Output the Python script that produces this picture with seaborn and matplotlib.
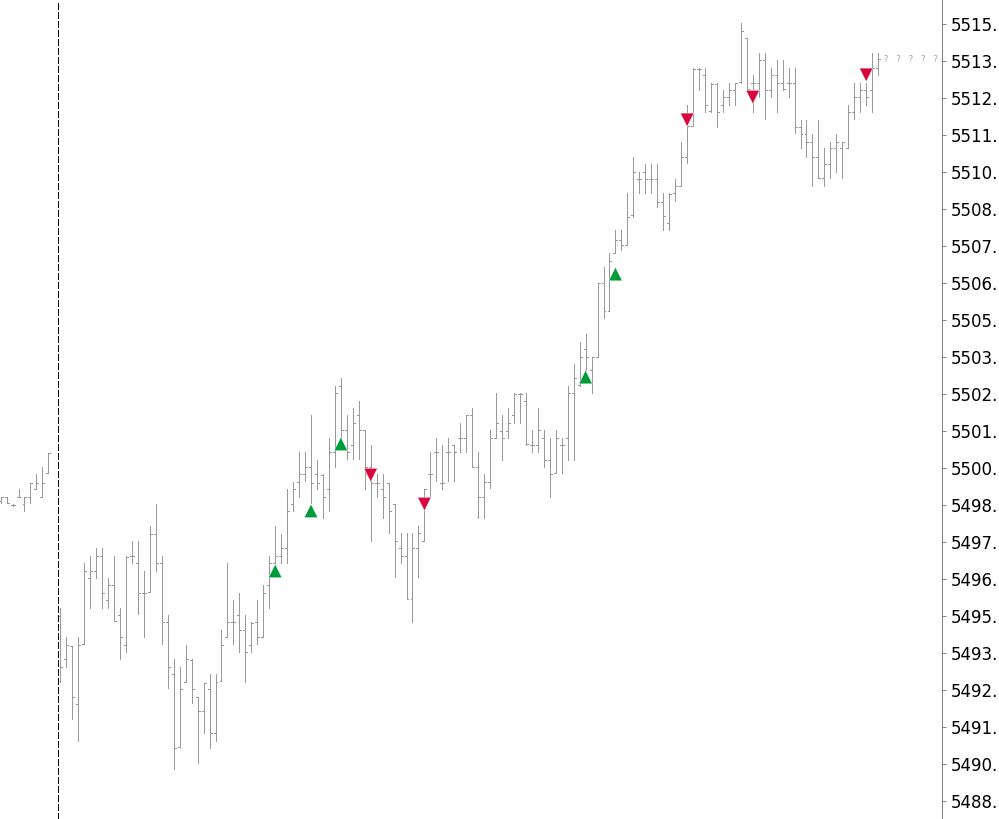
import matplotlib
matplotlib.use("Agg")
import matplotlib.pyplot as plt
import pandas as pd
import seaborn as sns

# ── bar data (index 9 is an empty slot at the session separator) ─────────────
bar_index = list(range(0, 9)) + list(range(10, 148))

opens = [5498.90, 5499.01, 5498.75, 5499.03, 5498.78, 5499.01, 5499.30, 5499.03, 5499.82,
         5495.00, 5493.54, 5494.00, 5492.03, 5494.04, 5496.27, 5496.51, 5497.02, 5495.54, 5496.04,
         5495.02, 5494.01, 5497.02, 5496.79, 5495.77, 5495.80, 5497.76, 5496.79, 5494.79, 5493.04,
         5490.56, 5492.78, 5493.51, 5492.27, 5491.78, 5492.52, 5491.04, 5492.79, 5494.30, 5494.79,
         5495.02, 5494.53, 5494.01, 5494.79, 5494.30, 5496.05, 5496.80, 5497.03, 5497.29, 5498.77,
         5499.53, 5499.79, 5500.02, 5499.79, 5499.76, 5499.28, 5500.54, 5502.77, 5501.27, 5500.77,
         5501.79, 5501.27, 5500.04, 5499.50, 5499.28, 5499.50, 5498.77, 5497.29, 5497.03, 5495.56,
         5497.29, 5497.54, 5499.80, 5500.54, 5499.50, 5500.54, 5500.77, 5501.00, 5501.00, 5501.79,
         5500.04, 5499.03, 5499.52, 5501.01, 5501.26, 5501.26, 5501.79, 5502.50, 5502.25, 5500.78,
         5500.78, 5501.01, 5500.27, 5499.82, 5500.78, 5501.01, 5502.52, 5502.79, 5504.01, 5503.31,
         5503.76, 5506.26, 5505.29, 5507.25, 5507.70, 5507.52, 5508.54, 5509.75, 5510.01, 5509.75,
         5509.75, 5509.00, 5508.27, 5509.28, 5509.54, 5510.52, 5511.55, 5513.47, 5513.28, 5512.07,
         5512.97, 5512.26, 5512.52, 5512.77, 5513.04, 5514.52, 5513.00, 5513.00, 5513.78, 5512.77,
         5513.28, 5513.02, 5513.02, 5513.02, 5511.51, 5511.28, 5511.02, 5510.52, 5509.79, 5510.27,
         5510.80, 5510.80, 5510.80, 5512.04, 5512.52, 5512.77, 5512.77, 5513.50]

highs = [5499.01, 5499.01, 5498.77, 5499.28, 5499.01, 5499.50, 5499.80, 5500.02, 5500.52,
         5495.26, 5494.30, 5494.00, 5494.30, 5496.79, 5497.03, 5497.29, 5497.29, 5496.27, 5497.03,
         5495.26, 5497.03, 5497.52, 5497.52, 5496.51, 5498.04, 5498.78, 5497.03, 5495.03, 5493.54,
         5493.29, 5494.01, 5493.54, 5492.27, 5492.75, 5493.04, 5493.04, 5494.53, 5496.80, 5495.54,
         5495.77, 5495.02, 5494.79, 5495.54, 5496.05, 5497.03, 5498.04, 5497.77, 5499.28, 5499.53,
         5500.54, 5500.54, 5501.79, 5500.27, 5499.79, 5501.00, 5502.77, 5503.03, 5501.79, 5502.04,
         5502.26, 5501.27, 5500.77, 5499.80, 5499.80, 5499.50, 5498.77, 5497.79, 5497.79, 5497.79,
         5498.04, 5499.28, 5500.54, 5501.00, 5500.77, 5501.00, 5500.77, 5501.53, 5501.79, 5502.02,
         5500.54, 5499.80, 5501.28, 5502.52, 5501.79, 5502.02, 5502.52, 5502.52, 5502.52, 5501.28,
         5502.02, 5501.28, 5501.01, 5501.28, 5501.01, 5502.77, 5503.51, 5504.27, 5504.53, 5503.76,
         5506.26, 5506.78, 5507.25, 5508.04, 5508.04, 5509.28, 5510.52, 5510.01, 5510.27, 5510.27,
         5510.27, 5509.28, 5509.28, 5509.75, 5511.02, 5512.26, 5513.50, 5513.50, 5513.50, 5513.02,
         5513.00, 5512.77, 5513.02, 5513.02, 5515.02, 5514.52, 5513.28, 5514.01, 5514.01, 5513.52,
         5513.78, 5513.78, 5513.50, 5513.50, 5511.76, 5511.76, 5511.28, 5511.76, 5510.80, 5511.02,
         5511.28, 5511.02, 5512.26, 5513.02, 5513.02, 5513.02, 5514.01, 5514.01]

lows = [5498.81, 5498.81, 5498.72, 5499.03, 5498.56, 5498.81, 5499.30, 5499.03, 5499.82,
        5492.78, 5493.29, 5491.53, 5490.79, 5494.04, 5495.28, 5496.29, 5495.28, 5495.28, 5494.82,
        5493.56, 5493.79, 5496.79, 5495.06, 5494.30, 5495.80, 5496.53, 5494.04, 5492.56, 5489.82,
        5490.56, 5492.78, 5492.05, 5490.04, 5491.06, 5490.55, 5490.79, 5492.79, 5494.30, 5494.04,
        5493.79, 5492.78, 5493.79, 5494.04, 5494.30, 5495.28, 5496.80, 5496.80, 5496.80, 5498.56,
        5499.03, 5499.55, 5498.83, 5499.30, 5498.30, 5498.56, 5500.04, 5501.00, 5500.29, 5500.29,
        5500.29, 5499.30, 5497.54, 5499.03, 5498.30, 5497.79, 5496.31, 5496.80, 5495.56, 5494.81,
        5496.31, 5497.54, 5499.03, 5499.55, 5499.30, 5499.55, 5499.55, 5500.54, 5500.54, 5500.04,
        5498.30, 5498.30, 5499.31, 5501.01, 5500.27, 5501.01, 5501.53, 5501.53, 5500.78, 5500.54,
        5500.54, 5500.04, 5499.03, 5499.82, 5499.82, 5500.27, 5500.27, 5502.77, 5503.31, 5502.52,
        5503.76, 5505.06, 5505.29, 5507.25, 5507.36, 5507.52, 5508.49, 5509.30, 5509.30, 5509.30,
        5508.81, 5508.04, 5508.04, 5509.03, 5509.54, 5510.29, 5511.55, 5512.77, 5512.04, 5512.04,
        5511.53, 5512.04, 5512.26, 5512.26, 5513.02, 5512.77, 5512.04, 5512.54, 5511.78, 5512.54,
        5512.04, 5512.77, 5512.54, 5511.31, 5510.80, 5510.52, 5509.54, 5509.79, 5509.54, 5509.79,
        5510.01, 5509.79, 5510.80, 5511.78, 5512.04, 5512.26, 5512.04, 5513.28]

closes = [5499.01, 5498.81, 5498.74, 5499.03, 5499.01, 5499.50, 5499.50, 5499.50, 5500.52,
          5493.27, 5494.01, 5492.27, 5494.01, 5496.51, 5496.51, 5497.02, 5495.77, 5496.04, 5494.82,
          5494.29, 5496.98, 5497.02, 5495.77, 5495.77, 5497.76, 5496.79, 5494.79, 5493.27, 5490.54,
          5492.52, 5493.54, 5492.52, 5491.78, 5492.75, 5491.04, 5492.77, 5494.01, 5494.79, 5494.79,
          5494.53, 5493.78, 5494.76, 5494.30, 5495.79, 5496.78, 5497.03, 5497.29, 5498.55, 5499.29,
          5499.79, 5500.02, 5499.50, 5499.50, 5499.02, 5500.54, 5502.52, 5501.27, 5500.54, 5501.53,
          5501.27, 5500.04, 5499.50, 5499.50, 5499.03, 5498.54, 5497.52, 5497.03, 5495.56, 5497.29,
          5497.79, 5499.28, 5499.80, 5500.54, 5499.50, 5500.54, 5500.54, 5501.00, 5501.79, 5500.04,
          5499.03, 5499.52, 5501.01, 5501.51, 5501.01, 5501.53, 5502.50, 5502.50, 5500.81, 5500.78,
          5501.28, 5500.27, 5499.80, 5501.01, 5500.78, 5502.52, 5503.03, 5503.76, 5503.76, 5503.76,
          5506.26, 5505.29, 5507.00, 5507.70, 5507.53, 5508.49, 5510.01, 5509.75, 5509.75, 5509.75,
          5509.00, 5508.51, 5509.26, 5509.53, 5510.52, 5511.55, 5513.47, 5513.47, 5512.26, 5512.97,
          5512.04, 5512.52, 5512.77, 5513.00, 5514.75, 5512.79, 5513.00, 5513.78, 5512.77, 5513.28,
          5513.02, 5512.79, 5513.02, 5511.51, 5511.28, 5511.02, 5510.52, 5509.79, 5510.27, 5510.80,
          5511.02, 5511.02, 5512.04, 5512.52, 5512.77, 5512.52, 5513.50, 5513.81]

# ── signal arrows ─────────────────────────────────────────────────────────
buy_bars = [46, 52, 57, 98, 103]
buy_prices = [5496.52, 5498.55, 5500.81, 5503.07, 5506.55]
sell_bars = [62, 71, 115, 126, 145]
sell_prices = [5499.76, 5498.78, 5511.76, 5512.53, 5513.28]

price_ticks = [5515.00, 5513.75, 5512.50, 5511.25, 5510.00, 5508.75, 5507.50, 5506.25,
               5505.00, 5503.75, 5502.50, 5501.25, 5500.00, 5498.75, 5497.50, 5496.25,
               5495.00, 5493.75, 5492.50, 5491.25, 5490.00, 5488.75]

separator_bar = 9.66
last_label = "?   ?   ?   ?   ?"

# ── style ─────────────────────────────────────────────────────────────────
sns.set_style("white")
plt.rcParams['font.family'] = ['DejaVu Sans']

BAR_COLOR = '#999999'
AXIS_COLOR = '#808080'
LW = 0.7     # ~1 px at 100 dpi
TICK = 0.33  # open/close tick length in bar units

bars = pd.DataFrame({'bar': bar_index, 'open': opens, 'high': highs,
                     'low': lows, 'close': closes})
signals = pd.DataFrame({
    'bar': buy_bars + sell_bars,
    'price': buy_prices + sell_prices,
    'kind': ['buy'] * len(buy_bars) + ['sell'] * len(sell_bars),
})

fig = plt.figure(figsize=(9.99, 8.19), dpi=100)
ax = fig.add_axes([0, 0, 942 / 999, 1])

# OHLC bars: high-low stem, open tick left, close tick right
ax.vlines(bars['bar'], bars['low'], bars['high'], color=BAR_COLOR, lw=LW, antialiased=False)
ax.hlines(bars['open'], bars['bar'] - TICK, bars['bar'], color=BAR_COLOR, lw=LW, antialiased=False)
ax.hlines(bars['close'], bars['bar'], bars['bar'] + TICK, color=BAR_COLOR, lw=LW, antialiased=False)

sns.scatterplot(data=signals, x='bar', y='price', hue='kind', style='kind',
                markers={'buy': '^', 'sell': 'v'},
                palette={'buy': '#009B3A', 'sell': '#D6083B'},
                s=95, edgecolor='white', linewidth=0.3, legend=False, ax=ax, zorder=3)

# session separator
ax.axvline(separator_bar, color='black', lw=LW, linestyle=(0, (7, 3)), antialiased=False)

# last price label
ax.text(bars['bar'].iloc[-1] + 1.0, bars['close'].iloc[-1], last_label,
        fontsize=6, color='#a0a0a0', va='center', ha='left')

ax.set_xlim(-0.1, 157.7)
ax.set_ylim(5488.14, 5515.81)
ax.set_xticks([])
ax.yaxis.tick_right()
ax.set_yticks(price_ticks)
# the price scale only shows the integer part and the point
ax.set_yticklabels([f"{v:.2f}"[:5] for v in price_ticks])
ax.tick_params(axis='y', length=3, width=LW, color=AXIS_COLOR,
               labelsize=12, pad=3, labelcolor='black')
ax.set_xlabel('')
ax.set_ylabel('')
for side in ['left', 'top', 'bottom']:
    ax.spines[side].set_visible(False)
ax.spines['right'].set_color(AXIS_COLOR)
ax.spines['right'].set_linewidth(LW)

fig.savefig('out.png', dpi=100)
plt.close(fig)
